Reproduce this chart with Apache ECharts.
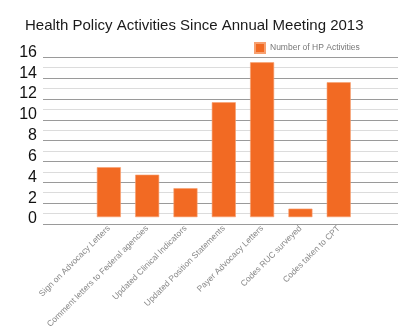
<!DOCTYPE html>
<html>
<head>
<meta charset="utf-8">
<script src="https://cdn.jsdelivr.net/npm/echarts@6/dist/echarts.min.js"></script>
<style>html,body{margin:0;padding:0;background:#fff}#c{width:400px;height:331px}</style>
</head>
<body>
<div id="c"></div>
<script>
var categories = ['Sign on Advocacy Letters','Comment letters to Federal agencies','Updated Clinical Indicators','Updated Position Statements','Payer Advocacy Letters','Codes RUC surveyed','Codes taken to CPT'];
var values = [5, 4.25, 2.9, 11.5, 15.5, 0.85, 13.5];
var seriesName = 'Number of HP Activities';
var titleText = 'Health Policy Activities Since Annual Meeting 2013';
var yMin = 0, yMax = 16, yInterval = 1;

var chart = echarts.init(document.getElementById('c'));
chart.setOption({
  animation: false,
  backgroundColor: '#fff',
  title: {text: titleText, left: 20, top: 13, textStyle: {fontFamily: 'Liberation Sans, Arial, sans-serif', fontSize: 15, fontWeight: 'normal', color: '#1a1a1a'}},
  legend: {data: [seriesName], left: 249, top: 37, itemWidth: 10, itemHeight: 10, itemGap: 5, icon: 'rect',
    textStyle: {fontFamily: 'Liberation Sans, Arial, sans-serif', fontSize: 8.5, color: '#777'}},
  grid: [
    {left: 43, right: 2, top: 57.3, bottom: 107},
    {left: 89.7, right: 42.1, top: 57.3, bottom: 107}
  ],
  xAxis: [
    {gridIndex: 0, type: 'category', data: categories, show: false},
    {gridIndex: 1, type: 'category', data: categories, axisLine: {show: false}, axisTick: {show: false},
      axisLabel: {rotate: 45, interval: 0, margin: 10, fontFamily: 'Liberation Sans, Arial, sans-serif', fontSize: 8.5, color: '#888'}}
  ],
  yAxis: [
    {gridIndex: 0, type: 'value', min: yMin, max: yMax, interval: yInterval,
      axisLine: {show: false}, axisTick: {show: false},
      axisLabel: {margin: 6, fontFamily: 'Liberation Sans, Arial, sans-serif', fontSize: 16, color: '#111', verticalAlign: 'bottom', lineHeight: 10,
        formatter: function(v){ return v % 2 === 0 ? String(v) : ''; }},
      splitLine: {lineStyle: {color: ['#9a9a9a', '#dcdcdc'], width: 1}}},
    {gridIndex: 1, type: 'value', min: yMin, max: yMax, interval: yInterval, show: false, splitLine: {show: false}}
  ],
  series: [{
    name: seriesName, type: 'bar', xAxisIndex: 1, yAxisIndex: 1, data: values, barWidth: 24,
    itemStyle: {color: '#f26a23', borderColor: '#f7a070', borderWidth: 0.6}
  }]
});
</script>
</body>
</html>
